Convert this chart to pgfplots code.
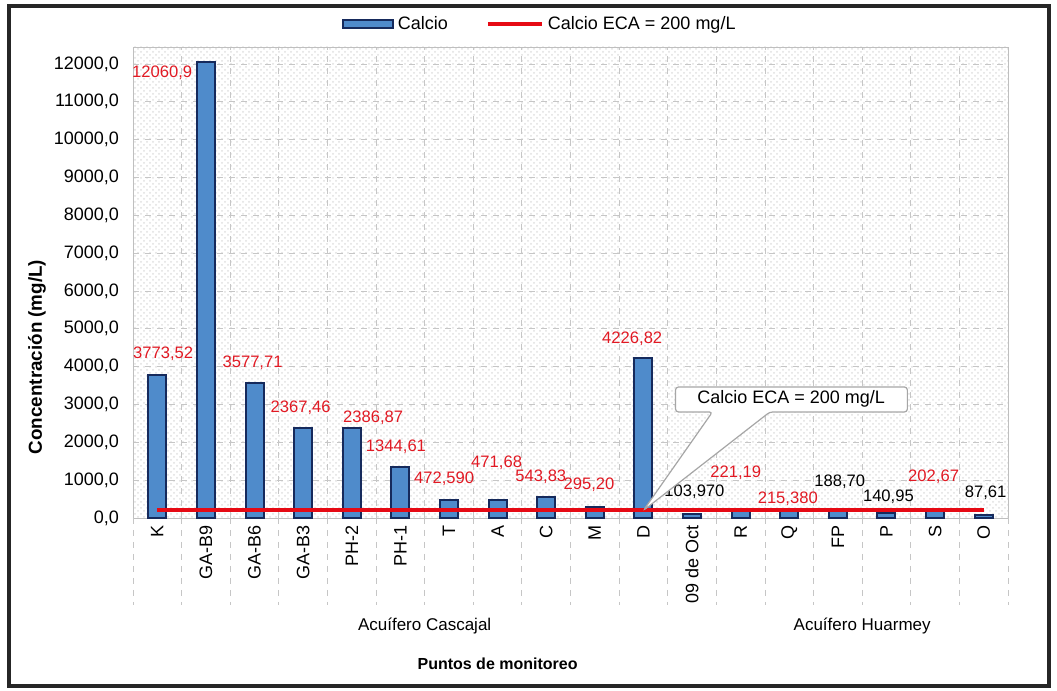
\documentclass[border=0pt]{standalone}
\usepackage{pgfplots}
\pgfplotsset{compat=1.18}
\usepackage{fontspec}
\setmainfont{Liberation Sans}
\usetikzlibrary{patterns}

\definecolor{barfill}{RGB}{79,139,203}
\definecolor{barline}{RGB}{22,42,92}
\definecolor{lblred}{RGB}{225,25,35}
\definecolor{ecared}{RGB}{230,10,20}

\begin{document}
\begin{tikzpicture}
\begin{axis}[
  scale only axis, width=437.5pt, height=235.5pt,
  xmin=-0.5, xmax=17.5, ymin=0, ymax=12450,
  xtick={0,...,17},
  xticklabels={K,GA-B9,GA-B6,GA-B3,PH-2,PH-1,T,A,C,M,D,09 de Oct,R,Q,FP,P,S,O},
  xticklabel style={rotate=90, anchor=east, font=\fontsize{9}{10}\selectfont},
  minor xtick={-0.5,0.5,...,17.5},
  xminorgrids, minor grid style={gray!45, dashed},
  ytick={0,1000,...,12000},
  scaled y ticks=false,
  ymajorgrids, major grid style={gray!45, dashed},
  yticklabel style={font=\fontsize{9}{10}\selectfont, xshift=-3.5pt},
  /pgf/number format/.cd, fixed, fixed zerofill, precision=1, use comma, 1000 sep={}, assume math mode=true,
  /pgfplots/.cd,
  tick style={draw=none},
  axis line style={gray!50},
  axis background/.style={pattern=crosshatch dots, pattern color=gray!25},
  clip=false,
  legend columns=2,
  legend style={at={(axis description cs:0.466,1)}, anchor=center, yshift=11.5pt,
    draw=none, fill=none, font=\fontsize{9}{10}\selectfont,
    /tikz/every even column/.append style={column sep=17pt}},
]
\addplot[ybar, bar width=9pt, fill=barfill, draw=barline, line width=1pt,
  legend image code/.code={\draw[fill=barfill, draw=barline, line width=1pt] (0pt,-2pt) rectangle (25pt,2pt);}]
  coordinates {
  (0,3773.52) (1,12060.9) (2,3577.71) (3,2367.46) (4,2386.87) (5,1344.61)
  (6,472.590) (7,471.68) (8,543.83) (9,295.20) (10,4226.82) (11,103.970)
  (12,221.19) (13,215.380) (14,188.70) (15,140.95) (16,202.67) (17,87.61)};
\addlegendentry{Calcio}
\addplot[ecared, line width=2pt,
  legend image code/.code={\draw[ecared, line width=2pt] (0pt,0pt) -- (27pt,0pt);}]
  coordinates {(0,200) (17,200)};
\addlegendentry{Calcio ECA = 200 mg/L}

% category separators below the axis
\pgfplotsinvokeforeach{-0.5,0.5,...,17.5}{
  \draw[gray!45, dashed] (axis cs:#1,0) -- ([yshift=-43.5pt]axis cs:#1,0);
}

% data labels
\begin{scope}[every node/.style={font=\fontsize{8.3}{9}\selectfont, inner sep=0pt}]
\node[lblred] at (axis cs:0.10,11763) {12060,9};
\node[lblred] at (axis cs:0.12,4335) {3773,52};
\node[lblred] at (axis cs:1.96,4097) {3577,71};
\node[lblred] at (axis cs:2.95,2908) {2367,46};
\node[lblred] at (axis cs:4.44,2643) {2386,87};
\node[lblred] at (axis cs:4.91,1877) {1344,61};
\node[lblred] at (axis cs:5.90,1031) {472,590};
\node[lblred] at (axis cs:6.98,1454) {471,68};
\node[lblred] at (axis cs:7.89,1084) {543,83};
\node[lblred] at (axis cs:8.88,872) {295,20};
\node[lblred] at (axis cs:9.77,4732) {4226,82};
\node[black] at (axis cs:11.05,687) {103,970};
\node[lblred] at (axis cs:11.90,1190) {221,19};
\node[lblred] at (axis cs:12.97,502) {215,380};
\node[black] at (axis cs:14.04,952) {188,70};
\node[black] at (axis cs:15.04,555) {140,95};
\node[lblred] at (axis cs:15.97,1084) {202,67};
\node[black] at (axis cs:17.04,661) {87,61};
\end{scope}

% callout
\filldraw[fill=white, draw=gray!70, line width=0.6pt, rounded corners=1.5pt]
  (axis cs:10.66,3463) -- (axis cs:15.43,3463) -- (axis cs:15.43,2802)
  -- (axis cs:12.6,2802) -- (axis cs:10.0,200) -- (axis cs:11.42,2802)
  -- (axis cs:10.66,2802) -- cycle;
\node[font=\fontsize{9}{10}\selectfont] at (axis cs:13.04,3146) {Calcio ECA = 200 mg/L};

% group labels and axis titles
\node[font=\fontsize{8.5}{10}\selectfont] at ([yshift=-54pt]axis cs:5.5,0) {Acuífero Cascajal};
\node[font=\fontsize{8.5}{10}\selectfont] at ([yshift=-54pt]axis cs:14.5,0) {Acuífero Huarmey};
\node[font=\bfseries\fontsize{8}{10}\selectfont] at ([yshift=-73pt]axis cs:7,0) {Puntos de monitoreo};
\node[font=\bfseries\fontsize{9.4}{10}\selectfont, rotate=90] at ([xshift=-48pt]axis cs:-0.5,4256) {Concentración (mg/L)};
\end{axis}
\path ([shift={(-66.5pt,-86.5pt)}]current axis.south west) rectangle ([shift={(462pt,259pt)}]current axis.south west);
\draw[line width=2pt, black!85] ([shift={(-62pt,-84pt)}]current axis.south west) rectangle ([shift={(458pt,256pt)}]current axis.south west);
\end{tikzpicture}
\end{document}
